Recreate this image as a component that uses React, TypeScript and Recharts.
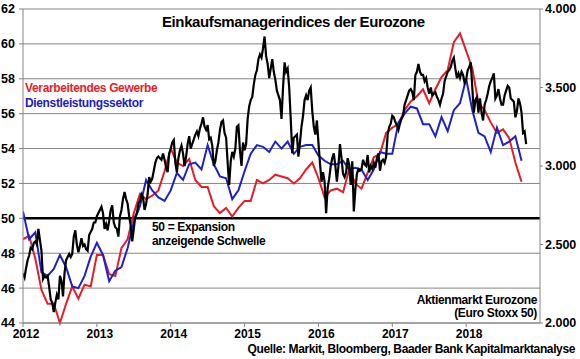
import React from 'react';
import { ComposedChart, Line, XAxis, YAxis, CartesianGrid, ReferenceLine } from 'recharts';

// Monatswerte Jan 2012 - Okt 2018
const years = [2012, 2013, 2014, 2015, 2016, 2017, 2018];

const verarbeitendesGewerbe = [
  48.8, 49.0, 47.7, 45.9, 45.1, 45.1, 44.0, 45.1, 46.1, 45.4, 46.2, 46.1,
  47.9, 47.9, 46.8, 46.7, 48.3, 48.8, 50.3, 51.4, 51.1, 51.3, 51.6, 52.7,
  54.0, 53.2, 53.0, 53.4, 52.2, 51.8, 51.8, 50.7, 50.3, 50.6, 50.1, 50.6,
  51.0, 51.0, 52.2, 52.0, 52.2, 52.5, 52.4, 52.3, 52.0, 52.3, 52.8, 53.2,
  52.3, 51.2, 51.6, 51.7, 51.5, 52.8, 52.0, 51.7, 52.6, 53.5, 53.7, 54.9,
  55.2, 55.4, 56.2, 56.7, 57.0, 57.4, 56.6, 57.4, 58.1, 58.5, 60.1, 60.6,
  59.6, 58.6, 56.6, 56.2, 55.5, 54.9, 55.1, 54.6, 53.2, 52.1,
];

const dienstleistungssektor = [
  50.4, 48.8, 49.2, 46.9, 46.7, 47.1, 47.9, 47.2, 46.1, 46.0, 46.7, 47.8,
  48.6, 47.9, 46.4, 47.0, 47.2, 48.3, 49.8, 50.7, 52.2, 51.6, 51.2, 51.0,
  51.6, 52.6, 52.2, 53.1, 53.2, 52.8, 54.2, 53.1, 52.4, 52.3, 51.1, 51.6,
  52.7, 53.7, 54.2, 54.1, 53.8, 54.4, 54.0, 54.4, 53.7, 54.1, 54.2, 54.2,
  53.6, 53.3, 53.1, 53.1, 53.3, 52.8, 52.9, 52.8, 52.2, 52.8, 53.8, 53.7,
  53.7, 55.5, 56.0, 56.4, 56.3, 55.4, 55.4, 54.7, 55.8, 55.0, 56.2, 56.6,
  58.0, 56.2, 54.9, 54.7, 53.8, 55.2, 54.2, 54.4, 54.7, 53.3,
];

// Euro Stoxx 50, vier Werte je Monat
const stoxx2012 = [
  2316, 2290, 2350, 2400, 2430, 2480, 2470, 2510, 2520, 2500, 2600, 2530,
  2460, 2280, 2300, 2290, 2300, 2230, 2150, 2130, 2070, 2130, 2180, 2150,
  2300, 2270, 2170, 2320, 2400, 2420, 2440, 2420, 2440, 2550, 2590, 2500,
  2450, 2490, 2540, 2490, 2500, 2470, 2460, 2560, 2580, 2600, 2640, 2640,
];
const stoxx2013 = [
  2680, 2700, 2720, 2740, 2700, 2600, 2630, 2590, 2650, 2720, 2750, 2640,
  2610, 2600, 2550, 2680, 2720, 2790, 2835, 2790, 2760, 2680, 2620, 2520,
  2600, 2680, 2700, 2760, 2780, 2820, 2800, 2720, 2760, 2820, 2930, 2900,
  2920, 2970, 3020, 3050, 3060, 3050, 3040, 3080, 3040, 2990, 2960, 3080,
];
const stoxx2014 = [
  3110, 3150, 3165, 3020, 2960, 3050, 3100, 3130, 3080, 3000, 3060, 3140,
  3190, 3110, 3140, 3170, 3200, 3220, 3190, 3240, 3270, 3310, 3250, 3230,
  3260, 3170, 3180, 3130, 3000, 3030, 3100, 3150, 3230, 3280, 3290, 3210,
  3180, 3020, 2880, 3030, 3090, 3060, 3110, 3250, 3260, 3100, 3000, 3150,
];
const stoxx2015 = [
  3100, 3140, 3300, 3380, 3420, 3440, 3520, 3580, 3610, 3680, 3710, 3690,
  3750, 3825, 3700, 3650, 3560, 3620, 3680, 3600, 3550, 3480, 3450, 3420,
  3300, 3500, 3660, 3600, 3620, 3500, 3300, 3080, 3180, 3190, 3200, 3060,
  3150, 3250, 3320, 3420, 3450, 3420, 3480, 3500, 3350, 3250, 3200, 3290,
];
const stoxx2016 = [
  3150, 3020, 2900, 2960, 2900, 2700, 2860, 2920, 3000, 3050, 3080, 3000,
  2900, 3000, 3140, 3050, 2950, 2930, 2960, 3050, 3010, 2880, 3030, 2710,
  2850, 2950, 2980, 2970, 2980, 3040, 3010, 3000, 3070, 2960, 3000, 2980,
  3020, 2990, 3050, 3080, 2970, 3030, 3040, 3020, 3060, 3200, 3250, 3270,
];
const stoxx2017 = [
  3320, 3310, 3280, 3260, 3230, 3270, 3300, 3320, 3390, 3420, 3450, 3480,
  3490, 3470, 3420, 3580, 3600, 3650, 3600, 3580, 3580, 3540, 3560, 3500,
  3460, 3500, 3450, 3460, 3470, 3440, 3420, 3390, 3430, 3460, 3540, 3570,
  3600, 3610, 3630, 3670, 3690, 3620, 3560, 3590, 3560, 3600, 3580, 3530,
];
const stoxx2018 = [
  3550, 3610, 3630, 3660, 3500, 3340, 3420, 3440, 3340, 3430, 3340, 3290,
  3390, 3420, 3460, 3510, 3540, 3560, 3590, 3430, 3450, 3490, 3430, 3390,
  3390, 3450, 3480, 3510, 3500, 3430, 3420, 3410, 3310, 3350, 3430, 3400,
  3340, 3210, 3220, 3140,
];
const euroStoxx50 = [stoxx2012, stoxx2013, stoxx2014, stoxx2015, stoxx2016, stoxx2017, stoxx2018];

const leftTicks = [44, 46, 48, 50, 52, 54, 56, 58, 60, 62];
const rightTicks = [2000, 2500, 3000, 3500, 4000];

const RED = '#e41e26';
const BLUE = '#2020c8';
const GRID = '#858585';
const FONT = '"Liberation Sans", Arial, sans-serif';

const pmiRows = (values: number[]) => values.map((v, i) => ({ x: 2012 + i / 12, v }));
const stoxxRows = euroStoxx50.flatMap((vals, yi) => vals.map((v, i) => ({ x: years[yi] + i / 48, v })));

const fmtThousand = (v: number) => `${Math.floor(v / 1000)}.${String(v % 1000).padStart(3, '0')}`;

const tickStyle = { fontSize: 12.5, fontWeight: 700, fill: '#000', fontFamily: FONT };
const txt = { fontFamily: FONT, fontWeight: 700, fontSize: 12, letterSpacing: -0.35 };

export default function App() {
  return (
    <div style={{ position: 'absolute', left: 0, top: 0, width: 580, height: 359, background: '#fff' }}>
      <ComposedChart width={580} height={359} margin={{ top: 9, right: 0, bottom: 16, left: 0 }}>
        <CartesianGrid yAxisId="left" vertical={false} stroke={GRID} />
        <XAxis
          dataKey="x"
          type="number"
          domain={[2012, 2019]}
          ticks={years}
          allowDataOverflow
          height={20}
          stroke={GRID}
          tickSize={4}
          tickMargin={2}
          tick={{ ...tickStyle, fontSize: 12, dx: 3 }}
          tickFormatter={(v: number) => String(v)}
        />
        <YAxis
          yAxisId="left"
          domain={[44, 62]}
          ticks={leftTicks}
          width={23}
          stroke={GRID}
          tickSize={4}
          tickMargin={4}
          tick={tickStyle}
          interval={0}
        />
        <YAxis
          yAxisId="right"
          orientation="right"
          domain={[2000, 4000]}
          ticks={rightTicks}
          width={40}
          stroke={GRID}
          tickSize={3}
          tickMargin={2}
          tick={tickStyle}
          tickFormatter={fmtThousand}
          interval={0}
        />
        <ReferenceLine yAxisId="left" y={50} stroke="#000" strokeWidth={2.5} />
        <Line
          yAxisId="left"
          data={pmiRows(verarbeitendesGewerbe)}
          dataKey="v"
          stroke={RED}
          strokeWidth={2}
          dot={false}
          type="linear"
          isAnimationActive={false}
        />
        <Line
          yAxisId="left"
          data={pmiRows(dienstleistungssektor)}
          dataKey="v"
          stroke={BLUE}
          strokeWidth={2}
          dot={false}
          type="linear"
          isAnimationActive={false}
        />
        <Line
          yAxisId="right"
          data={stoxxRows}
          dataKey="v"
          stroke="#000"
          strokeWidth={2.2}
          dot={false}
          type="linear"
          isAnimationActive={false}
        />
      </ComposedChart>
      <svg width={580} height={359} style={{ position: 'absolute', left: 0, top: 0, pointerEvents: 'none' }}>
        <text x={162} y={27} style={{ ...txt, fontSize: 15, letterSpacing: -0.4 }}>
          Einkaufsmanagerindices der Eurozone
        </text>
        <text x={25} y={91.5} fill={RED} style={txt}>Verarbeitendes Gewerbe</text>
        <text x={25} y={106.5} fill={BLUE} style={txt}>Dienstleistungssektor</text>
        <text x={152} y={231} style={txt}>50 = Expansion</text>
        <text x={152} y={244.5} style={txt}>anzeigende Schwelle</text>
        <text x={537} y={303.5} textAnchor="end" style={txt}>Aktienmarkt Eurozone</text>
        <text x={537} y={317} textAnchor="end" style={txt}>(Euro Stoxx 50)</text>
        <text x={575} y={352.5} textAnchor="end" style={{ ...txt, letterSpacing: -0.38 }}>
          Quelle: Markit, Bloomberg, Baader Bank Kapitalmarktanalyse
        </text>
      </svg>
    </div>
  );
}
